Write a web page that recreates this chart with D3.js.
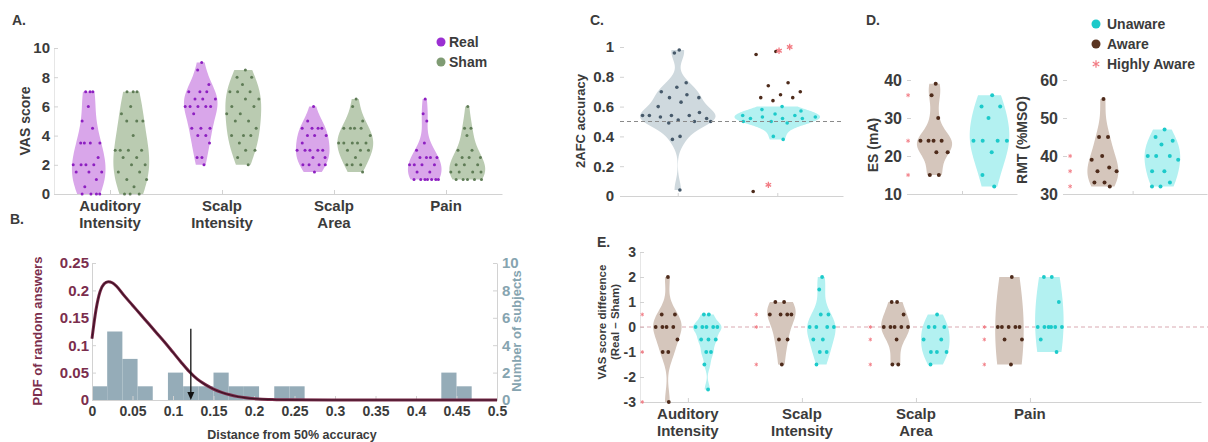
<!DOCTYPE html>
<html>
<head>
<meta charset="utf-8">
<script src="https://cdn.jsdelivr.net/npm/d3@7"></script>
<style>
  body { margin: 0; background: #fff; }
  text { font-family: "Liberation Sans", Arial, sans-serif; font-weight: bold; }
</style>
</head>
<body>
<svg id="fig" width="1208" height="442"></svg>
<script>
// ---------- data ----------
const vasCategories = [['Auditory', 'Intensity'], ['Scalp', 'Intensity'], ['Scalp', 'Area'], ['Pain']]
const vasTicks = [0, 2, 4, 6, 8, 10]
const vasReal = [
  [7, 7, 7, 6, 5, 4.5, 3.5, 3.5, 3.5, 3.5, 2.5, 2, 2, 2, 2, 1.5, 1.5, 1.5, 1, 0.5, 0, 0, 0, 0],
  [9, 8.5, 7.5, 7, 7, 7, 6.5, 6.5, 6.5, 6, 6, 6, 6, 6, 5.5, 4.5, 4.5, 4.5, 4, 4, 3.5, 2.5, 2.5, 2],
  [6, 5, 4.5, 4.5, 4.5, 4.5, 4, 4, 4, 3.5, 3, 3, 3, 3, 3, 2.5, 2.5, 2, 2, 2, 2, 1.5],
  [6.5, 5.5, 5, 3.5, 3, 2.5, 2.5, 2.5, 2.5, 2, 2, 2, 2, 1.5, 1.5, 1, 1, 1, 1, 1, 1, 1]
]
const vasSham = [
  [7, 7, 7, 6, 5.5, 5, 5, 5, 4, 3, 3, 3, 3, 2.5, 2.5, 2, 2, 1.5, 1.5, 1, 1, 0.5, 0, 0, 0],
  [8.5, 8, 8, 7.5, 7, 7, 7, 6.5, 6.5, 6, 6, 5.5, 5.5, 5, 5, 4.5, 4, 4, 4, 3.5, 3, 3, 2.5, 2],
  [6.5, 6, 5, 4.5, 4.5, 4.5, 4.5, 4, 3.5, 3.5, 3.5, 3.5, 3.5, 3, 3, 3, 2.5, 2, 2, 2, 1.5],
  [6, 4.5, 4.5, 4, 3, 3, 2.5, 2.5, 2.5, 2, 2, 2, 1.5, 1.5, 1.5, 1.5, 1, 1, 1, 1, 1]
]

const histBinWidth = 0.01875
const histCounts = [1, 5, 3, 1, 0, 2, 1, 1, 2, 1, 1, 0, 1, 1, 0, 0, 0, 0, 0, 0, 0, 0, 0, 2, 1]
const pdfX = [0, 0.005, 0.01, 0.015, 0.02, 0.025, 0.03, 0.04, 0.05, 0.06, 0.07, 0.08, 0.09, 0.1, 0.11, 0.12, 0.13, 0.14, 0.15, 0.16, 0.17, 0.18, 0.19, 0.2, 0.21, 0.22, 0.24, 0.3, 0.4, 0.5]
const pdfY = [0.112, 0.165, 0.198, 0.212, 0.216, 0.214, 0.208, 0.19, 0.173, 0.156, 0.139, 0.122, 0.105, 0.087, 0.069, 0.052, 0.038, 0.028, 0.02, 0.014, 0.0095, 0.0062, 0.004, 0.0025, 0.0015, 0.001, 0.0003, 0, 0, 0]
const bTicksX = [0, 0.05, 0.1, 0.15, 0.2, 0.25, 0.3, 0.35, 0.4, 0.45, 0.5]
const bTicksLeft = [0, 0.05, 0.1, 0.15, 0.2, 0.25]
const bTicksRight = [0, 2, 4, 6, 8, 10]
const observedDistance = 0.122
const arrowTop = 0.13

const afcAll = [0.98, 0.96, 0.76, 0.73, 0.7, 0.68, 0.66, 0.66, 0.63, 0.6, 0.56, 0.54, 0.54, 0.54, 0.53, 0.52, 0.51, 0.54, 0.5, 0.49, 0.5, 0.4, 0.38, 0.04]
const afcUnaware = [0.6, 0.58, 0.57, 0.55, 0.54, 0.54, 0.53, 0.53, 0.52, 0.52, 0.52, 0.5, 0.5, 0.49, 0.4, 0.38]
const afcAware = [0.97, 0.95, 0.76, 0.74, 0.7, 0.68, 0.66, 0.66, 0.64, 0.03]
const afcHighly = [1.0, 0.975, 0.075]
const afcTicks = [0, 0.2, 0.4, 0.6, 0.8, 1]

const esAware = [39, 36, 30, 24, 24, 24, 24, 21, 21, 15, 15]
const esUnaware = [36, 33, 33, 30, 24, 24, 24, 24, 21, 15, 12]
const esHighly = [36, 24, 15]
const esTicks = [10, 20, 30, 40]
const rmtAware = [55, 45, 45, 40, 39, 37, 36, 36, 33, 33, 32]
const rmtUnaware = [47, 45, 44, 43, 40, 40, 40, 39, 36, 36, 33, 32, 32]
const rmtHighly = [40, 36, 32]
const rmtTicks = [30, 40, 50, 60]

const diffTicks = [-3, -2, -1, 0, 1, 2, 3]
const diffAware = [
  [2, 0.5, 0.5, 0, 0, 0, 0, -0.5, -1, -1, -3],
  [1, 1, 0.5, 0.5, 0.5, 0.5, -0.5, -0.5, -1.5],
  [1, 1, 0.5, 0, 0, 0, 0, 0, -0.5, -1.5, -1.5],
  [2, 0, 0, 0, 0, 0, -0.5, -0.5, -1.5]
]
const diffUnaware = [
  [0.5, 0.5, 0, 0, 0, 0, 0, -0.5, -0.5, -0.5, -1, -1, -1.5, -2.5],
  [2, 1.5, 0.5, 0.5, 0, 0, 0, 0, -0.5, -0.5, -1, -1, -1.5],
  [0.5, 0, 0, 0, -0.5, -0.5, -1, -1, -1, -1.5],
  [2, 2, 1, 0, 0, 0, 0, 0, 0, -0.5, -1]
]
const diffHighly = [[0.5, -1, -3], [0.5, 0, -1.5], [0, -0.5, -1.5], [0, -0.5, -1.5]]

// ---------- helpers ----------
const svg = d3.select('#fig')
const ink = '#3b3b3b', axisGray = '#d2d2d2'
const purple = '#8d1fc1', purpleFill = '#d9a6ea'
const green = '#5f7c56', greenFill = '#bacbb1'
const slate = '#46596a', slateFill = '#cfd9de'
const cyan = '#1ccaca', cyanFill = '#b3f1f1'
const brown = '#4e2b1b', brownFill = '#d5c6bc'
const pink = '#f27c84'

const jitter = i => (((i + 1) * 0.6180339887) % 1) * 2 - 1

function bandwidth(vals) {
  const med = d3.median(vals)
  let sig = d3.median(vals, v => Math.abs(v - med)) / 0.6745
  if (!(sig > 0)) sig = d3.max(vals) - d3.min(vals)
  return sig * Math.pow(4 / (3 * vals.length), 0.2)
}

function drawViolin(g, xs, ys, pos, vals, w, fill, dot, r, bwMin) {
  const h = Math.max(bandwidth(vals), bwMin || 0)
  const kde = v => d3.sum(vals, u => Math.exp(-0.5 * ((v - u) / h) ** 2))
  const lo = d3.min(vals), hi = d3.max(vals)
  const grid = d3.range(81).map(i => lo + (hi - lo) * i / 80)
  const peak = d3.max(grid, kde)
  const area = d3.area()
    .y(v => ys(v))
    .x0(v => xs(pos - w * kde(v) / peak))
    .x1(v => xs(pos + w * kde(v) / peak))
  g.append('path').datum(grid).attr('d', area).attr('fill', fill)
  g.append('g').selectAll('circle').data(vals).join('circle')
    .attr('cx', (v, i) => xs(pos + jitter(i) * w * kde(v) / peak))
    .attr('cy', v => ys(v))
    .attr('r', r)
    .attr('fill', dot)
}

function drawDots(g, xs, ys, pos, vals, spread, color, r) {
  g.append('g').selectAll('circle').data(vals).join('circle')
    .attr('cx', (v, i) => xs(pos + jitter(i + 3) * spread))
    .attr('cy', v => ys(v))
    .attr('r', r)
    .attr('fill', color)
}

function drawStars(g, xs, ys, pos, vals, spread, size, width) {
  g.append('g').selectAll('path').data(vals).join('path')
    .attr('d', d3.symbol(d3.symbolAsterisk, size))
    .attr('transform', (v, i) => `translate(${xs(pos + jitter(i + 7) * spread)},${ys(v)})`)
    .attr('fill', 'none')
    .attr('stroke', pink)
    .attr('stroke-width', width)
}

function styleAxis(g, size, color) {
  g.select('.domain').attr('stroke', axisGray)
  g.selectAll('.tick line').attr('stroke', axisGray)
  g.selectAll('.tick text').attr('fill', color || ink).style('font-size', size + 'px')
}

function label(x, y, txt, size, opts = {}) {
  const t = svg.append('text').attr('x', x).attr('y', y).text(txt)
    .style('font-size', size + 'px').attr('fill', opts.color || ink)
    .attr('text-anchor', opts.anchor || 'start')
  if (opts.rotate) t.attr('transform', `rotate(-90,${x},${y})`)
  return t
}

function catLabels(xs, y, size) {
  vasCategories.forEach((lines, i) => {
    const t = svg.append('text').attr('text-anchor', 'middle').style('font-size', size + 'px').attr('fill', ink)
    lines.forEach((s, k) => t.append('tspan').attr('x', xs(i + 1)).attr('y', y + k * 17).text(s))
  })
}

// ---------- A ----------
const xA = d3.scaleLinear().domain([0.5, 4.5]).range([54, 502])
const yA = d3.scaleLinear().domain([0, 10]).range([194, 48])
const gA = svg.append('g')
gA.append('g').attr('transform', 'translate(54,0)')
  .call(d3.axisLeft(yA).tickValues(vasTicks).tickSize(-4).tickSizeOuter(0).tickPadding(4))
  .call(styleAxis, 15)
gA.select('.domain').attr('stroke', '#e6e6e6')
gA.append('g').attr('transform', 'translate(0,194)')
  .call(d3.axisBottom(xA).tickValues([1, 2, 3, 4]).tickFormat('').tickSize(-4).tickSizeOuter(0))
  .call(styleAxis, 15)
vasReal.forEach((vals, i) => drawViolin(gA, xA, yA, i + 1 - 0.19, vals, 0.15, purpleFill, purple, 1.5))
vasSham.forEach((vals, i) => drawViolin(gA, xA, yA, i + 1 + 0.19, vals, 0.16, greenFill, green, 1.5))
catLabels(xA, 211, 15)
label(30, 121, 'VAS score', 14, { anchor: 'middle', rotate: true })
label(12, 25, 'A.', 14)
svg.append('circle').attr('cx', 441).attr('cy', 42).attr('r', 4.5).attr('fill', '#9b2fd2')
label(449, 47, 'Real', 14)
svg.append('circle').attr('cx', 441).attr('cy', 62).attr('r', 4.5).attr('fill', '#7f9b73')
label(449, 67, 'Sham', 14)

// ---------- B ----------
const xB = d3.scaleLinear().domain([0, 0.5]).range([92, 497])
const yBL = d3.scaleLinear().domain([0, 0.25]).range([400, 263])
const yBR = d3.scaleLinear().domain([0, 10]).range([400, 263])
const gB = svg.append('g')
gB.append('g').selectAll('rect').data(histCounts).join('rect')
  .attr('x', (c, i) => xB(i * histBinWidth))
  .attr('width', (c, i) => xB((i + 1) * histBinWidth) - xB(i * histBinWidth))
  .attr('y', c => yBR(c))
  .attr('height', c => yBR(0) - yBR(c))
  .attr('fill', '#95acb8')
gB.append('g').attr('transform', 'translate(92,0)')
  .call(d3.axisLeft(yBL).tickValues(bTicksLeft).tickFormat(d => String(d)).tickSize(-4).tickSizeOuter(0).tickPadding(3))
  .call(styleAxis, 15, '#7b2e4d')
gB.append('g').attr('transform', 'translate(497,0)')
  .call(d3.axisRight(yBR).tickValues(bTicksRight).tickSize(-4).tickSizeOuter(0).tickPadding(5))
  .call(styleAxis, 15, '#86a4b0')
gB.append('g').attr('transform', 'translate(0,400)')
  .call(d3.axisBottom(xB).tickValues(bTicksX).tickFormat(d => String(d)).tickSize(-4).tickSizeOuter(0).tickPadding(6))
  .call(styleAxis, 14)
const pdfLine = d3.line().x((d, i) => xB(pdfX[i])).y(d => yBL(d)).curve(d3.curveMonotoneX)
gB.append('path').datum(pdfY).attr('d', pdfLine).attr('fill', 'none').attr('stroke', '#7b2a4a').attr('stroke-width', 3)
gB.append('path').datum(pdfY).attr('d', pdfLine).attr('fill', 'none').attr('stroke', '#3e1426').attr('stroke-width', 1.2)
gB.append('line')
  .attr('x1', xB(observedDistance)).attr('x2', xB(observedDistance))
  .attr('y1', yBL(arrowTop)).attr('y2', yBL(0) - 6)
  .attr('stroke', '#111').attr('stroke-width', 1.3)
gB.append('path')
  .attr('d', `M${xB(observedDistance) - 3.5},${yBL(0) - 8}L${xB(observedDistance) + 3.5},${yBL(0) - 8}L${xB(observedDistance)},${yBL(0)}Z`)
  .attr('fill', '#111')
label(42, 331, 'PDF of random answers', 13, { anchor: 'middle', rotate: true, color: '#7b2e4d' })
label(521, 331, 'Number of subjects', 13, { anchor: 'middle', rotate: true, color: '#86a4b0' })
label(292, 439, 'Distance from 50% accuracy', 12.5, { anchor: 'middle' })
label(10, 224, 'B.', 14)

// ---------- C ----------
const xC = d3.scaleLinear().domain([0.42, 2.66]).range([620, 843])
const yC = d3.scaleLinear().domain([0, 1]).range([196, 47])
const gC = svg.append('g')
gC.append('g').attr('transform', 'translate(620,0)')
  .call(d3.axisLeft(yC).tickValues(afcTicks).tickFormat(d => String(d)).tickSize(-4).tickSizeOuter(0).tickPadding(6))
  .call(styleAxis, 15)
gC.select('.domain').attr('stroke', 'none')
gC.append('g').attr('transform', 'translate(0,196)')
  .call(d3.axisBottom(xC).tickValues([1, 2]).tickFormat('').tickSize(-3).tickSizeOuter(0))
  .call(styleAxis, 15)
drawViolin(gC, xC, yC, 1, afcAll, 0.38, slateFill, slate, 1.8, 0.05)
drawViolin(gC, xC, yC, 2, afcUnaware, 0.43, cyanFill, cyan, 1.8, 0.045)
drawDots(gC, xC, yC, 2, afcAware, 0.26, brown, 1.8)
drawStars(gC, xC, yC, 2, afcHighly, 0.14, 28, 1.3)
gC.append('line').attr('x1', 620).attr('x2', 843).attr('y1', yC(0.5)).attr('y2', yC(0.5))
  .attr('stroke', '#8a8a8a').attr('stroke-dasharray', '4,3').attr('stroke-width', 1)
label(585, 121, '2AFC accuracy', 13, { anchor: 'middle', rotate: true })
label(590, 25, 'C.', 14)

// ---------- D ----------
const xES = d3.scaleLinear().domain([0.5, 2.5]).range([907, 1017])
const yES = d3.scaleLinear().domain([10, 40]).range([194, 80])
const xRMT = d3.scaleLinear().domain([0.33, 2.75]).range([1063, 1207])
const yRMT = d3.scaleLinear().domain([30, 60]).range([194, 80])
const gD = svg.append('g')
gD.append('g').attr('transform', 'translate(907,0)')
  .call(d3.axisLeft(yES).tickValues(esTicks).tickSize(-4).tickSizeOuter(0).tickPadding(5))
  .call(styleAxis, 16)
gD.append('g').attr('transform', 'translate(0,194)')
  .call(d3.axisBottom(xES).tickValues([1.5]).tickFormat('').tickSize(-3).tickSizeOuter(0))
  .call(styleAxis, 15)
gD.append('g').attr('transform', 'translate(1063,0)')
  .call(d3.axisLeft(yRMT).tickValues(rmtTicks).tickSize(-4).tickSizeOuter(0).tickPadding(5))
  .call(styleAxis, 16)
gD.append('g').attr('transform', 'translate(0,194)')
  .call(d3.axisBottom(xRMT).tickValues([1.5]).tickFormat('').tickSize(-3).tickSizeOuter(0))
  .call(styleAxis, 15)
gD.selectAll('.domain').filter((d, i) => i % 2 === 0).attr('stroke', 'none')
drawViolin(gD, xES, yES, 1, esAware, 0.32, brownFill, brown, 2)
drawViolin(gD, xES, yES, 2, esUnaware, 0.36, cyanFill, cyan, 2)
drawStars(gD, xES, yES, 0.52, esHighly, 0, 12, 0.9)
drawViolin(gD, xRMT, yRMT, 1, rmtAware, 0.26, brownFill, brown, 2)
drawViolin(gD, xRMT, yRMT, 2, rmtUnaware, 0.3, cyanFill, cyan, 2)
drawStars(gD, xRMT, yRMT, 0.45, rmtHighly, 0, 12, 0.9)
label(878, 145, 'ES (mA)', 14, { anchor: 'middle', rotate: true })
label(1027, 140, 'RMT (%MSO)', 14, { anchor: 'middle', rotate: true })
label(866, 25, 'D.', 14)
svg.append('circle').attr('cx', 1096).attr('cy', 24).attr('r', 4.5).attr('fill', cyan)
label(1107, 29, 'Unaware', 14)
svg.append('circle').attr('cx', 1096).attr('cy', 44).attr('r', 4.5).attr('fill', '#5b3522')
label(1107, 49, 'Aware', 14)
svg.append('path').attr('d', d3.symbol(d3.symbolAsterisk, 40)).attr('transform', 'translate(1096,64)')
  .attr('fill', 'none').attr('stroke', pink).attr('stroke-width', 1.2)
label(1107, 69, 'Highly Aware', 14)

// ---------- E ----------
const xE = d3.scaleLinear().domain([0.58, 5.5]).range([640, 1201])
const yE = d3.scaleLinear().domain([-3, 3]).range([402, 252])
const gE = svg.append('g')
gE.append('g').attr('transform', 'translate(640,0)')
  .call(d3.axisLeft(yE).tickValues(diffTicks).tickFormat(d => String(d)).tickSize(-4).tickSizeOuter(0).tickPadding(4))
  .call(styleAxis, 14)
gE.select('.domain').attr('stroke', '#e6e6e6')
gE.append('g').attr('transform', 'translate(0,402)')
  .call(d3.axisBottom(xE).tickValues([1, 2, 3, 4]).tickFormat('').tickSize(-4).tickSizeOuter(0))
  .call(styleAxis, 15)
gE.append('line').attr('x1', 640).attr('x2', 1208).attr('y1', yE(0)).attr('y2', yE(0))
  .attr('stroke', '#d9a9b1').attr('stroke-dasharray', '4,3').attr('stroke-width', 1)
diffAware.forEach((vals, i) => drawViolin(gE, xE, yE, i + 1 - 0.18, vals, 0.125, brownFill, brown, 1.9))
diffUnaware.forEach((vals, i) => drawViolin(gE, xE, yE, i + 1 + 0.17, vals, 0.125, cyanFill, cyan, 1.9))
diffHighly.forEach((vals, i) => drawStars(gE, xE, yE, i + 1 - 0.4, vals, 0, 10, 0.9))
catLabels(xE, 419, 15)
const tE = svg.append('text').attr('text-anchor', 'middle').style('font-size', '11.5px').attr('fill', ink)
  .attr('transform', 'translate(606,322) rotate(-90)')
tE.append('tspan').attr('x', 0).attr('y', 0).text('VAS score difference')
tE.append('tspan').attr('x', 0).attr('y', 12.5).text('(Real – Sham)')
label(597, 247, 'E.', 14)
</script>
</body>
</html>
